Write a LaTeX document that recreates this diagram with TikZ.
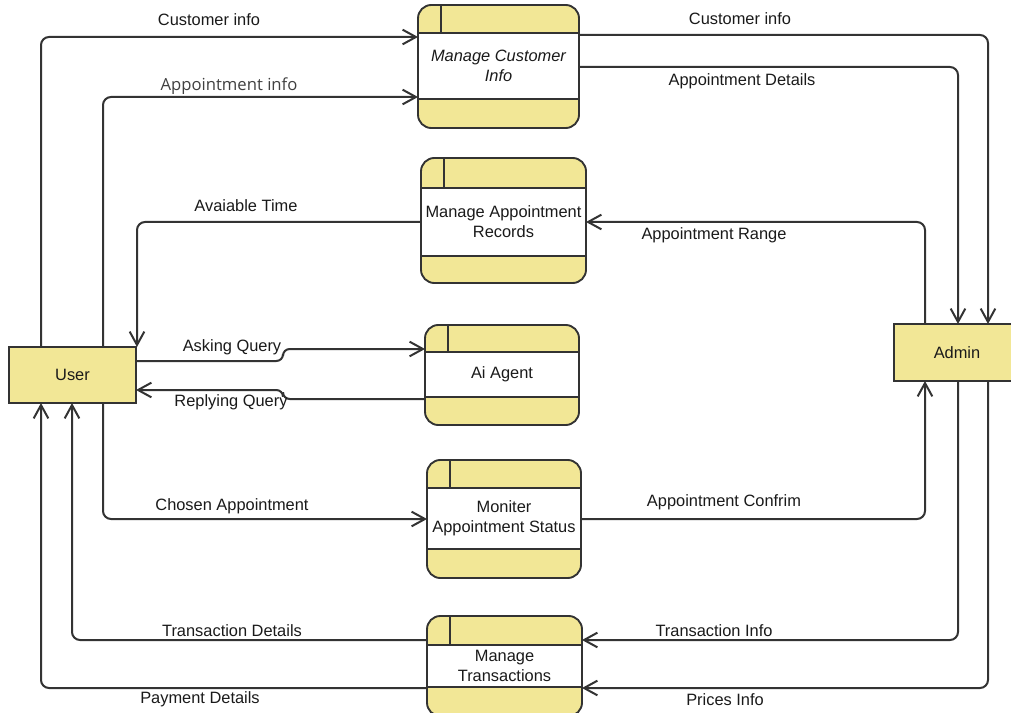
\documentclass[tikz,border=0pt]{standalone}
\usepackage{fontspec}
\setmainfont{Liberation Sans}
\newfontfamily\opensans{Open Sans}
\usetikzlibrary{arrows.meta,calc}

\definecolor{boxfill}{HTML}{F2E796}
\definecolor{linecol}{HTML}{333333}
\definecolor{textcol}{HTML}{1A1A1A}

% process box: name, x1, y1, x2, y2, header line y, lower band y, text
\newcommand{\dfdprocess}[8]{%
  \pgfmathsetmacro\procw{(#4-#2)*0.75}%
  \pgfmathsetmacro\proch{(#5-#3)*0.75}%
  \node[procbox, minimum width=\procw pt, minimum height=\proch pt]
    (#1) at ({(#2+#4)/2},{(#3+#5)/2}) {};
  \fill[white] (#2,#6) rectangle (#4,#7);
  \draw[boxline] (#2,#6) -- (#4,#6) (#2,#7) -- (#4,#7) (#2+23,#3) -- (#2+23,#6);
  \draw[boxline, rounded corners=10pt] (#1.south west) rectangle (#1.north east);
  \node[proctext] at ({(#2+#4)/2},{(#6+#7)/2}) {#8};
}

\tikzset{
  procbox/.style={rectangle, fill=boxfill, rounded corners=10pt,
    inner sep=0pt, outer sep=0pt},
  boxline/.style={draw=linecol, line width=1.4pt},
  proctext/.style={align=center, text=textcol, inner sep=0pt,
    font=\fontsize{12.3}{15}\selectfont},
  entity/.style={rectangle, draw=linecol, line width=1.4pt, fill=boxfill,
    inner sep=0pt, outer sep=0pt, text=textcol,
    font=\fontsize{12.3}{15}\selectfont},
  flow/.style={draw=linecol, line width=1.5pt, rounded corners=6pt,
    -{Straight Barb[length=10pt,width=11pt,line width=1.5pt]}},
  flowlabel/.style={text=textcol, inner sep=0pt,
    font=\fontsize{12.3}{15}\selectfont},
}

\begin{document}
\begin{tikzpicture}[x=0.75pt,y=-0.75pt]
\useasboundingbox (0,0) rectangle (1011,713);
\clip (0,0) rectangle (1011,713);
\fill[white] (0,0) rectangle (1011,713);

% external entities
\node[entity, minimum width=95.25pt, minimum height=42pt] (user) at (72.5,375) {User};
\node[entity, minimum width=94.5pt, minimum height=42.75pt] (admin) at (957,352.5) {Admin};

% processes
\dfdprocess{mci}{418}{5}{579}{128}{33}{99}{{\itshape Manage Customer}\\{\itshape Info}}
\dfdprocess{mar}{421}{158}{586}{283}{188}{256}{Manage Appointment\\Records}
\dfdprocess{ai}{425}{325}{579}{425}{352}{397}{Ai Agent}
\dfdprocess{mas}{427}{460}{581}{578}{488}{549}{Moniter\\Appointment Status}
\dfdprocess{mt}{427}{616}{582}{716}{645}{687}{Manage\\Transactions}

% end points of the query flows and the column where they step
\coordinate (jog) at (283,0);
\coordinate (askA) at ($(user.north east)+(0,14)$);
\coordinate (askB) at ($(ai.north west)+(0,24)$);
\coordinate (repA) at ($(ai.south west)+(0,-26)$);
\coordinate (repB) at ($(user.north east)+(0,43)$);

% data flows
\draw[flow] ($(user.north west)+(32,0)$) |- ($(mci.north west)+(0,32)$);
\draw[flow] ($(user.north west)+(94,0)$) |- ($(mci.south west)+(0,-31)$);
\draw[flow] ($(mci.north east)+(0,30)$) -| ($(admin.north west)+(94,0)$);
\draw[flow] ($(mci.north east)+(0,62)$) -| ($(admin.north west)+(64,0)$);
\draw[flow] ($(mar.west)+(0,1.5)$) -| ($(user.north east)+(1,0)$);
\draw[flow] ($(admin.north west)+(31,0)$) |- ($(mar.east)+(0,1.5)$);
\draw[flow, rounded corners=5pt] (askA) -- (askA -| jog) -- (askB -| jog) -- (askB);
\draw[flow, rounded corners=5pt] (repA) -- (repA -| jog) -- (repB -| jog) -- (repB);
\draw[flow] ($(user.south west)+(94,0)$) |- (mas.west);
\draw[flow] (mas.east) -| ($(admin.south west)+(31,0)$);
\draw[flow] ($(admin.south west)+(64,0)$) |- ($(mt.north east)+(0,24)$);
\draw[flow] ($(admin.south west)+(94,0)$) |- ($(mt.north east)+(0,72)$);
\draw[flow] ($(mt.north west)+(0,24)$) -| ($(user.south west)+(63,0)$);
\draw[flow] ($(mt.north west)+(0,72)$) -| ($(user.south west)+(32,0)$);

% flow labels
\node[flowlabel] (l1) at (209,20) {Customer info};
\node[flowlabel, text=black!75, font=\opensans\fontsize{12.5}{15}\selectfont] (l2) at (229,86) {Appointment info};
\node[flowlabel] (l3) at (740,19) {Customer info};
\node[flowlabel] (l4) at (742,81) {Appointment Details};
\node[flowlabel] (l5) at (246,206) {Avaiable Time};
\node[flowlabel] (l6) at (714,235) {Appointment Range};
\node[flowlabel] (l7) at (232,347) {Asking Query};
\node[flowlabel] (l8) at (231,402) {Replying Query};
\node[flowlabel] (l9) at (232,506) {Chosen Appointment};
\node[flowlabel] (l10) at (724,502) {Appointment Confrim};
\node[flowlabel] (l11) at (232,631) {Transaction Details};
\node[flowlabel] (l12) at (714,631) {Transaction Info};
\node[flowlabel] (l13) at (200,699) {Payment Details};
\node[flowlabel] (l14) at (725,700) {Prices Info};
\end{tikzpicture}
\end{document}
